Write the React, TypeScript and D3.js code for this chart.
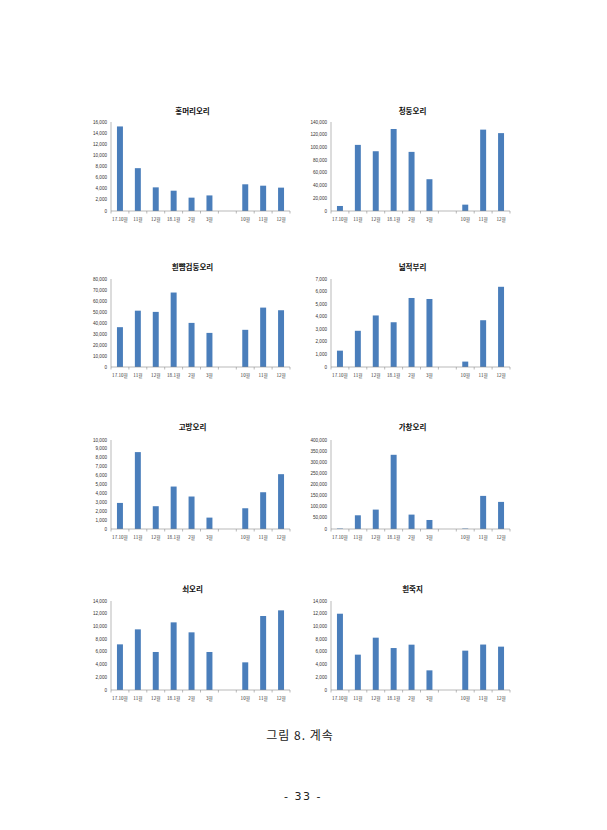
import React from "react";
import * as d3 from "d3";

const categories = ["17.10월", "11월", "12월", "18.1월", "2월", "3월", "", "10월", "11월", "12월"];

const hongmeori = [15200, 7700, 4250, 3650, 2400, 2800, null, 4800, 4550, 4200];
const cheongdung = [7900, 104000, 94000, 129000, 93000, 50000, null, 10000, 128000, 122500];
const heuinppyam = [36200, 51200, 50100, 67700, 40100, 31000, null, 33800, 54000, 51600];
const neopjeok = [1300, 2880, 4100, 3560, 5490, 5410, null, 430, 3720, 6380];
const gobang = [2930, 8640, 2560, 4770, 3650, 1280, null, 2330, 4130, 6160];
const gachang = [2000, 61600, 87200, 333500, 64700, 40500, null, 2000, 148800, 121800];
const soe = [7180, 9540, 5980, 10640, 9070, 5980, null, 4350, 11640, 12530];
const heuinjukji = [12000, 5560, 8230, 6600, 7130, 3090, null, 6190, 7150, 6820];

const titles = ["홍머리오리", "청둥오리", "흰뺨검둥오리", "넓적부리", "고방오리", "가창오리", "쇠오리", "흰죽지"];
const seriesList = [hongmeori, cheongdung, heuinppyam, neopjeok, gobang, gachang, soe, heuinjukji];
const yMaxList = [16000, 140000, 80000, 7000, 10000, 400000, 14000, 14000];
const yStepList = [2000, 20000, 10000, 1000, 1000, 50000, 2000, 2000];

const caption = "그림 8. 계속";
const pageNumber = "- 33 -";

const colX = [
  [111, 290],
  [331, 510],
];
const rowY = [
  [110, 122, 211],
  [266, 279, 367],
  [426, 440, 529],
  [588, 601, 690],
];

const BAR = "#4a7ebb";
const AXIS = "#8c8c8c";
const TXT = "#333";
const FONT = "'Liberation Sans', 'Noto Sans CJK KR', sans-serif";
const KFONT = "'Noto Sans CJK KR', sans-serif";

function Chart({ idx }: { idx: number }) {
  const col = idx % 2;
  const row = Math.floor(idx / 2);
  const [x0, x1] = colX[col];
  const [ty, yTop, yZero] = rowY[row];
  const values = seriesList[idx];
  const keys = categories.map((_, i) => String(i));
  const x = d3.scaleBand<string>().domain(keys).range([x0, x1]).paddingInner(2 / 3).paddingOuter(1 / 3);
  const y = d3.scaleLinear().domain([0, yMaxList[idx]]).range([yZero, yTop]);
  const ticks = d3.range(0, yMaxList[idx] + 1, yStepList[idx]);
  const step = x.step();
  const fmt = d3.format(",");
  return (
    <g>
      <text x={(x0 + x1) / 2 - 8} y={ty} textAnchor="middle" dominantBaseline="central" fontSize={7.5} fontWeight="bold" fontFamily={KFONT} fill="#111">
        {titles[idx]}
      </text>
      {ticks.map((t) => (
        <text key={t} x={x0 - 4} y={y(t)} textAnchor="end" dominantBaseline="central" fontSize={4.6} fontFamily={FONT} fill={TXT}>
          {fmt(t)}
        </text>
      ))}
      {values.map((v, i) =>
        v == null ? null : (
          <rect key={i} x={x(keys[i])} y={y(v)} width={x.bandwidth()} height={yZero - y(v)} fill={BAR} />
        )
      )}
      <line x1={x0} x2={x0} y1={yTop} y2={yZero} stroke={AXIS} strokeWidth={0.6} />
      <line x1={x0} x2={x1} y1={yZero} y2={yZero} stroke={AXIS} strokeWidth={0.6} />
      {d3.range(0, categories.length + 1).map((i) => (
        <line key={i} x1={x0 + i * step} x2={x0 + i * step} y1={yZero} y2={yZero + 2.5} stroke={AXIS} strokeWidth={0.6} />
      ))}
      {categories.map((c, i) => (
        <text key={i} x={(x(keys[i]) as number) + x.bandwidth() / 2} y={yZero + 8} textAnchor="middle" dominantBaseline="central" fontSize={4.6} fontFamily={KFONT} fill={TXT}>
          {c}
        </text>
      ))}
    </g>
  );
}

export default function App() {
  return (
    <svg width={607} height={830} style={{ position: "absolute", left: 0, top: 0, background: "#fff" }}>
      <rect x={0} y={0} width={607} height={830} fill="#fff" />
      {titles.map((_, i) => (
        <Chart key={i} idx={i} />
      ))}
      <text x={300} y={734} textAnchor="middle" dominantBaseline="central" fontSize={12} letterSpacing={1} fontFamily={KFONT} fill="#222">
        {caption}
      </text>
      <text x={303} y={796} textAnchor="middle" dominantBaseline="central" fontSize={11} letterSpacing={1.5} fontFamily="'DejaVu Sans', sans-serif" fill="#222">
        {pageNumber}
      </text>
    </svg>
  );
}
